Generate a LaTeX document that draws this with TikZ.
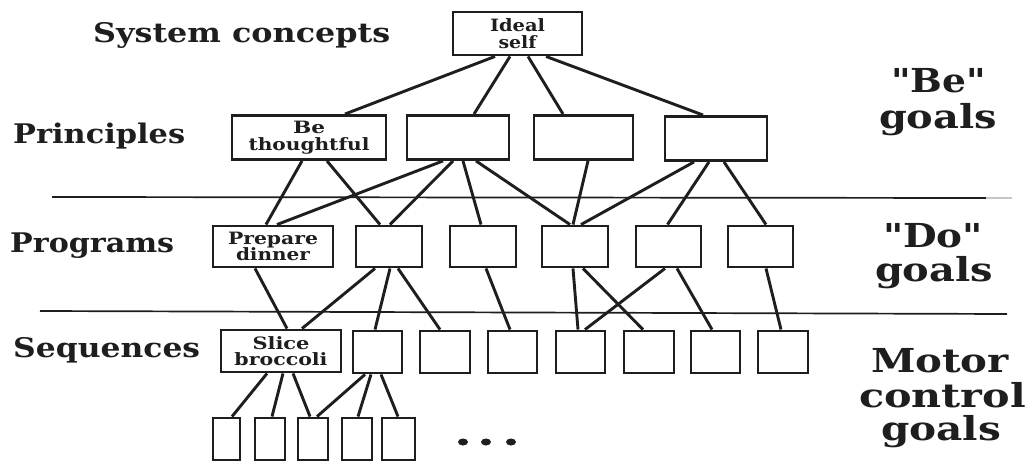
\documentclass[tikz,border=0pt]{standalone}
\usepackage{fontspec}
\usepackage{graphicx}
\newfontfamily\lblfont{DejaVu Serif}
\definecolor{ink}{RGB}{30,30,30}
% stretch a word to a given width (in pt), keeping its height
\newcommand\fitw[2]{\resizebox{#1pt}{\height}{#2}}

\begin{document}
\begin{tikzpicture}[x=1pt,y=-1pt,
  goal/.style={draw=ink, line width=2.9pt, inner sep=0pt, align=center,
    font=\lblfont\bfseries\fontsize{17}{16.5}\selectfont, text=ink},
  wide/.style={goal, minimum width=#1pt, minimum height=44pt},
  prog/.style={goal, minimum width=#1pt, minimum height=41pt},
  seq/.style={goal, minimum width=#1pt, minimum height=42pt},
  link/.style={draw=ink, line width=2.9pt},
  rule/.style={draw=ink, line width=1.7pt},
  level/.style={font=\lblfont\bfseries\fontsize{27}{30}\selectfont, text=ink,
    anchor=base west, inner sep=0pt},
  kind/.style={font=\lblfont\bfseries\fontsize{33}{34}\selectfont, text=ink,
    anchor=base, inner sep=0pt}]
\useasboundingbox (0,0) rectangle (1027,462);
\fill[white] (0,0) rectangle (1027,462);

% level separators
\draw[rule] (52,197) -- (986,198);
\draw[gray!45, line width=2pt] (986,198) -- (1012,198);
\draw[rule] (40,311) -- (1007,314);

% level names
\node[level] (lsys) at (93,43) {\fitw{297}{System concepts}};
\node[level] (lpri) at (13,144) {\fitw{172}{Principles}};
\node[level] (lpro) at (10,253) {\fitw{164}{Programs}};
\node[level] (lseq) at (13,357) {\fitw{187}{Sequences}};

% goal kinds
\node[kind] (be1) at (938.5,93) {\fitw{95}{"Be"}};
\node[kind] (be2) at (938,129) {\fitw{118}{goals}};
\node[kind] (do1) at (933,248) {\fitw{100}{"Do"}};
\node[kind] (do2) at (934,281) {\fitw{118}{goals}};
\node[kind] (mc1) at (940,372) {\fitw{138}{Motor}};
\node[kind] (mc2) at (942.5,407) {\fitw{167}{control}};
\node[kind] (mc3) at (941,440) {\fitw{120}{goals}};

% system concept
\node[goal, minimum width=129pt, minimum height=43pt] (ideal) at (517.5,33.5)
  {\fitw{55}{Ideal}\\\fitw{38}{self}};

% principles
\node[wide=154] (bt) at (309,137.5) {\fitw{32}{Be}\\\fitw{121}{thoughtful}};
\node[wide=102] (p2) at (458,137.5) {};
\node[wide=99]  (p3) at (583.5,137.5) {};
\node[wide=102] (p4) at (716,138.5) {};

% programs
\node[prog=120] (pd) at (273,246.5) {\fitw{90}{Prepare}\\\fitw{74}{dinner}};
\node[prog=66] (g2) at (389,246.5) {};
\node[prog=66] (g3) at (483,246.5) {};
\node[prog=66] (g4) at (575,246.5) {};
\node[prog=65] (g5) at (668.5,246.5) {};
\node[prog=65] (g6) at (760.5,246.5) {};

% sequences
\node[seq=120] (sb) at (281,351) {\fitw{57}{Slice}\\\fitw{93}{broccoli}};
\node[seq=49] (s2) at (377.5,352) {};
\node[seq=50] (s3) at (445,352) {};
\node[seq=49] (s4) at (512.5,352) {};
\node[seq=49] (s5) at (580.5,352) {};
\node[seq=50] (s6) at (649,352) {};
\node[seq=49] (s7) at (715.5,352) {};
\node[seq=50] (s8) at (783,352) {};

% motor control
\node[seq=27] (m1) at (226.5,439) {};
\node[seq=30] (m2) at (270,439) {};
\node[seq=30] (m3) at (313,439) {};
\node[seq=30] (m4) at (357,439) {};
\node[seq=33] (m5) at (398.5,439) {};

% system concept -> principles
\draw[link] ([xshift=-22.5pt]ideal.south) -- ([xshift=36pt]bt.north);
\draw[link] ([xshift=-7.5pt]ideal.south) -- ([xshift=16pt]p2.north);
\draw[link] ([xshift=10.5pt]ideal.south) -- ([xshift=-20.5pt]p3.north);
\draw[link] ([xshift=28.5pt]ideal.south) -- ([xshift=-13pt]p4.north);

% principles -> programs
\draw[link] ([xshift=-7pt]bt.south) -- ([xshift=-7pt]pd.north);
\draw[link] ([xshift=18pt]bt.south) -- ([xshift=-9pt]g2.north);
\draw[link] ([xshift=-15pt]p2.south) -- ([xshift=4pt]pd.north);
\draw[link] ([xshift=-5pt]p2.south) -- ([xshift=1pt]g2.north);
\draw[link] ([xshift=5pt]p2.south) -- ([xshift=-2pt]g3.north);
\draw[link] ([xshift=18pt]p2.south) -- ([xshift=-5pt]g4.north);
\draw[link] ([xshift=4.5pt]p3.south) -- ([xshift=-2pt]g4.north);
\draw[link] ([xshift=-22pt]p4.south) -- ([xshift=6pt]g4.north);
\draw[link] ([xshift=-7pt]p4.south) -- ([xshift=-1pt]g5.north);
\draw[link] ([xshift=8pt]p4.south) -- ([xshift=5.5pt]g6.north);

% programs -> sequences
\draw[link] ([xshift=-18pt]pd.south) -- ([xshift=6pt]sb.north);
\draw[link] ([xshift=-14pt]g2.south) -- ([xshift=21pt]sb.north);
\draw[link] ([xshift=1pt]g2.south) -- ([xshift=-2.5pt]s2.north);
\draw[link] ([xshift=9pt]g2.south) -- ([xshift=-5pt]s3.north);
\draw[link] ([xshift=3pt]g3.south) -- ([xshift=-2.5pt]s4.north);
\draw[link] ([xshift=-2pt]g4.south) -- ([xshift=-2.5pt]s5.north);
\draw[link] ([xshift=8pt]g4.south) -- ([xshift=-6pt]s6.north);
\draw[link] ([xshift=-3.5pt]g5.south) -- ([xshift=4.5pt]s5.north);
\draw[link] ([xshift=8.5pt]g5.south) -- ([xshift=-3.5pt]s7.north);
\draw[link] ([xshift=5.5pt]g6.south) -- ([xshift=-2pt]s8.north);

% sequences -> motor control
\draw[link] ([xshift=-14pt]sb.south) -- ([xshift=5.5pt]m1.north);
\draw[link] ([xshift=2pt]sb.south) -- ([xshift=2pt]m2.north);
\draw[link] ([xshift=12pt]sb.south) -- ([xshift=-3pt]m3.north);
\draw[link] ([xshift=-12.5pt]s2.south) -- ([xshift=4pt]m3.north);
\draw[link] ([xshift=-6.5pt]s2.south) -- ([xshift=1pt]m4.north);
\draw[link] ([xshift=3.5pt]s2.south) -- ([xshift=-0.5pt]m5.north);

% ellipsis
\fill[ink] (463,442) ellipse [x radius=5pt, y radius=3.5pt];
\fill[ink] (486,442) ellipse [x radius=5pt, y radius=3.5pt];
\fill[ink] (511,442) ellipse [x radius=5pt, y radius=3.5pt];
\end{tikzpicture}
\end{document}
